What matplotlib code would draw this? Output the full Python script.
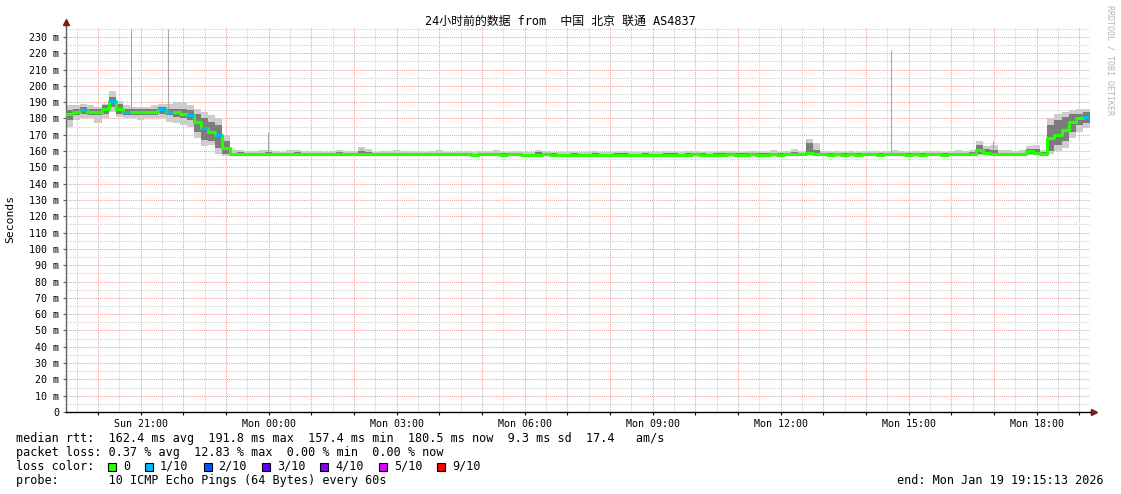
from datetime import datetime, timedelta

import numpy as np
import matplotlib
matplotlib.use('Agg')
import matplotlib.pyplot as plt
import matplotlib.dates as mdates
from matplotlib.ticker import MultipleLocator, FuncFormatter
from matplotlib.patches import Rectangle

MONO = 'DejaVu Sans Mono'
plt.rcParams['font.family'] = [MONO, 'Noto Sans CJK SC']

# 10 minute bins, Sun 19:15:13 -> Mon 19:15:13
start = datetime(2026, 1, 18, 19, 15, 13)
n_bins = 144

median = [
    183, 184, 185, 184, 184, 186, 191, 186, 184, 184, 184, 184,
    184, 186, 184, 184, 183, 182, 178, 174, 172, 170, 162,
    158.2, 158.3, 158.2, 158.2, 158.2, 158.3, 158.2, 158.2, 158.2, 158.2, 158.2, 158.1,
    158.1, 158.1, 158.1, 158.2, 158.1, 158.1, 158.2, 158.1, 158.1, 158.1, 158.1, 158.1,
    158.0, 158.1, 158.0, 158.0, 158.0, 158.1, 158.0, 158.0, 158.0, 158.0, 157.9, 158.0,
    158.0, 158.0, 157.9, 158.0, 158.0, 157.9, 157.9, 157.9, 158.0, 157.9, 157.9, 157.9,
    157.9, 157.9, 157.9, 157.9, 157.9, 157.8, 157.9, 157.9, 157.9, 157.9, 157.9, 157.9,
    157.9, 157.9, 157.9, 157.9, 157.9, 158.0, 157.9, 157.9, 157.9, 157.9, 158.0, 157.9,
    157.9, 158.0, 157.9, 157.9, 158.0, 157.9, 158.0, 158.1, 158.0, 158.6, 158.2, 158.0,
    157.9, 158.0, 157.9, 158.0, 157.9, 158.0, 158.0, 157.9, 158.0, 158.1, 158.0, 157.9,
    158.0, 157.9, 158.0, 158.0, 157.9, 158.0, 158.1, 158.0, 158.2, 160.5, 159.0, 158.2,
    158.0, 158.1, 158.0, 158.1, 160.0, 159.0, 158.5, 168, 170, 173, 178, 180, 181,
]

# lost pings out of 10 per bin
loss = [
    0, 0, 1, 0, 0, 0, 1, 0, 1, 0, 0, 0, 0, 1, 1, 0, 0, 1, 0, 1, 0, 1, 0,
] + [0] * 120 + [1]

smoke_lo = [
    175, 179, 180, 180, 177, 180, 184, 181, 180, 180, 179, 180,
    180, 180, 178, 177, 176, 175, 168, 163, 164, 158, 157,
    157.5, 157.6, 157.5, 157.5, 157.6, 157.5, 157.5, 157.6, 157.5, 157.5, 157.6, 157.4,
    157.5, 157.4, 157.5, 157.6, 157.4, 157.5, 157.6, 157.5, 157.4, 157.5, 157.4, 157.5,
    157.4, 157.5, 157.4, 157.3, 157.4, 157.5, 157.4, 157.3, 157.4, 157.4, 157.3, 157.4,
    157.5, 157.4, 157.3, 157.4, 157.4, 157.3, 157.2, 157.3, 157.4, 157.3, 157.2, 157.2,
    157.3, 157.2, 157.2, 157.3, 157.2, 157.1, 157.2, 157.3, 157.2, 157.2, 157.3, 157.2,
    157.2, 157.3, 157.2, 157.2, 157.3, 157.4, 157.3, 157.2, 157.3, 157.3, 157.4, 157.3,
    157.3, 157.4, 157.3, 157.3, 157.4, 157.3, 157.4, 157.5, 157.4, 157.6, 157.5, 157.4,
    157.3, 157.4, 157.3, 157.4, 157.3, 157.4, 157.4, 157.3, 157.4, 157.5, 157.4, 157.3,
    157.4, 157.3, 157.4, 157.4, 157.3, 157.4, 157.5, 157.4, 157.5, 157.8, 157.6, 157.5,
    157.4, 157.5, 157.4, 157.5, 157.7, 157.6, 157.5, 158, 160, 162, 168, 172, 174,
]

smoke_hi = [
    188, 188, 189, 188, 187, 189, 197, 191, 188, 187, 187, 187,
    188, 189, 189, 190, 190, 188, 186, 184, 182, 180, 170,
    160.5, 160.8, 160.2, 159.8, 160.6, 160.9, 160.1, 159.7, 160.4, 160.8, 159.9, 160.3,
    160.0, 159.6, 160.2, 160.7, 159.8, 160.1, 162.5, 161.0, 159.7, 160.2, 159.9, 160.4,
    159.8, 160.3, 159.7, 159.5, 160.1, 160.4, 159.6, 159.5, 160.0, 159.9, 159.4, 159.8,
    160.2, 160.6, 159.7, 159.5, 159.9, 159.4, 159.3, 160.8, 160.2, 159.5, 159.2, 159.4,
    159.6, 159.3, 159.5, 159.8, 159.4, 159.2, 159.6, 159.9, 159.4, 159.3, 159.7, 159.5,
    159.4, 159.8, 159.6, 159.3, 159.9, 160.2, 159.6, 159.4, 159.7, 159.8, 160.1, 159.6,
    159.7, 160.2, 159.8, 159.6, 160.5, 159.7, 160.3, 161.2, 160.0, 167.5, 165.0, 160.2,
    159.6, 160.1, 159.7, 160.0, 159.6, 160.3, 160.1, 159.7, 160.0, 160.4, 160.2, 159.6,
    159.9, 159.6, 160.0, 160.2, 159.7, 160.1, 160.4, 160.0, 160.8, 166.0, 163.0, 164.0,
    160.4, 160.8, 160.2, 160.6, 163.0, 164.0, 160.5, 180, 183, 184, 185, 186, 186,
]

core_lo = [
    179, 182, 183, 182, 182, 183, 187, 183, 182, 182, 182, 182,
    182, 183, 182, 181, 180, 179, 172, 167, 166, 162, 158,
    157.9, 158.0, 157.9, 157.8, 157.9, 158.0, 157.9, 157.8, 157.9, 157.8, 157.9, 157.7,
    157.8, 157.7, 157.8, 157.9, 157.7, 157.8, 157.9, 157.8, 157.7, 157.8, 157.7, 157.8,
    157.7, 157.8, 157.7, 157.6, 157.7, 157.8, 157.7, 157.6, 157.7, 157.7, 157.6, 157.7,
    157.8, 157.7, 157.6, 157.7, 157.7, 157.6, 157.5, 157.6, 157.7, 157.6, 157.5, 157.5,
    157.6, 157.5, 157.5, 157.6, 157.5, 157.4, 157.5, 157.6, 157.5, 157.5, 157.6, 157.5,
    157.5, 157.6, 157.5, 157.5, 157.6, 157.7, 157.6, 157.5, 157.6, 157.6, 157.7, 157.6,
    157.6, 157.7, 157.6, 157.6, 157.7, 157.6, 157.7, 157.8, 157.7, 157.9, 157.8, 157.7,
    157.6, 157.7, 157.6, 157.7, 157.6, 157.7, 157.7, 157.6, 157.7, 157.8, 157.7, 157.6,
    157.7, 157.6, 157.7, 157.7, 157.6, 157.7, 157.8, 157.7, 157.9, 158.5, 158.2, 157.9,
    157.7, 157.8, 157.7, 157.8, 158.2, 158.0, 157.8, 160, 164, 166, 172, 176, 177,
]

core_hi = [
    185, 186, 187, 186, 186, 188, 193, 189, 186, 186, 186, 186,
    186, 187, 186, 186, 186, 185, 183, 180, 178, 176, 166,
    159.0, 159.2, 158.9, 158.8, 159.1, 159.3, 158.9, 158.8, 159.0, 159.2, 158.8, 159.0,
    158.9, 158.7, 159.0, 159.2, 158.8, 158.9, 160.0, 159.3, 158.8, 158.9, 158.8, 159.0,
    158.8, 159.0, 158.7, 158.6, 158.9, 159.0, 158.7, 158.6, 158.8, 158.8, 158.5, 158.7,
    158.9, 159.1, 158.7, 158.6, 158.8, 158.5, 158.4, 159.2, 158.9, 158.6, 158.4, 158.5,
    158.6, 158.4, 158.5, 158.7, 158.5, 158.3, 158.6, 158.8, 158.5, 158.4, 158.7, 158.5,
    158.5, 158.7, 158.6, 158.4, 158.8, 158.9, 158.6, 158.5, 158.7, 158.7, 158.9, 158.6,
    158.7, 158.9, 158.7, 158.6, 159.0, 158.7, 158.9, 159.4, 158.9, 165.0, 160.5, 158.9,
    158.6, 158.8, 158.7, 158.8, 158.6, 158.9, 158.8, 158.7, 158.8, 159.0, 158.9, 158.6,
    158.8, 158.6, 158.8, 158.9, 158.7, 158.8, 159.0, 158.8, 159.2, 164.0, 161.0, 160.5,
    158.9, 159.1, 158.8, 159.0, 161.0, 161.0, 159.2, 176, 179, 181, 183, 183, 184,
]

# single-ping outliers: hours after start, rtt
spike_hours = [1.52, 2.39, 4.73, 6.91, 17.34, 17.48, 19.34, 21.73]
spike_values = [235, 235, 172, 162, 167, 165, 222, 166]

loss_labels = ['0', '1/10', '2/10', '3/10', '4/10', '5/10', '9/10']
loss_colors = ['#26ff00', '#00b8ff', '#0059ff', '#5e00ff', '#7e00ff', '#dd00ff', '#ff0000']
loss_steps = [0, 1, 2, 3, 4, 5, 9]

rtt_stats = [162.4, 191.8, 157.4, 180.5, 9.3, 17.4]
loss_stats = [0.37, 12.83, 0.00, 0.00]


def loss_color(k):
    col = loss_colors[0]
    for step, c in zip(loss_steps, loss_colors):
        if k >= step:
            col = c
    return col


W, H = 1121, 494
fig = plt.figure(figsize=(W / 100, H / 100), dpi=100)
ax = fig.add_axes([66 / W, 82 / H, 1024 / W, 385 / H])

edges = mdates.date2num([start + timedelta(minutes=10 * i) for i in range(n_bins + 1)])

# smoke
ax.fill_between(edges, smoke_lo + [smoke_lo[-1]], smoke_hi + [smoke_hi[-1]],
                step='post', color='#cdcdcd', lw=0, zorder=2)
ax.fill_between(edges, core_lo + [core_lo[-1]], core_hi + [core_hi[-1]],
                step='post', color='#7c7c7c', lw=0, zorder=3)

spike_x = mdates.date2num([start + timedelta(hours=h) for h in spike_hours])
spike_base = [median[int(h * 6)] for h in spike_hours]
ax.vlines(spike_x, spike_base, spike_values, color='#a8a8a8', lw=0.8, zorder=2)

# median rtt coloured by loss
ax.step(edges, median + [median[-1]], where='post', color=loss_colors[0], lw=2.2, zorder=4)
ax.hlines(median, edges[:-1], edges[1:], colors=[loss_color(k) for k in loss],
          lw=2.2, zorder=5)

ax.set_xlim(edges[0], edges[-1])
ax.set_ylim(0, 236.1)

ax.xaxis.set_major_locator(mdates.HourLocator())
ax.xaxis.set_minor_locator(mdates.MinuteLocator(byminute=[30]))
ax.xaxis.set_major_formatter(FuncFormatter(
    lambda v, p: mdates.num2date(v).strftime('%a %H:%M') if mdates.num2date(v).hour % 3 == 0 else ''))
ax.yaxis.set_major_locator(MultipleLocator(10))
ax.yaxis.set_minor_locator(MultipleLocator(5))
ax.yaxis.set_major_formatter(FuncFormatter(lambda v, p: '0' if v == 0 else f'{v:.0f} m'))

dots = (0, (1, 1))
ax.grid(which='major', color='#f2a0a0', lw=0.75, ls=dots)
ax.grid(which='minor', color='#d0d0d0', lw=0.75, ls=dots)
ax.set_axisbelow(True)

for s in ['top', 'right']:
    ax.spines[s].set_visible(False)
ax.spines['left'].set_color('#606060')
ax.spines['bottom'].set_color('#000000')
ax.spines['left'].set_linewidth(1.0)
ax.spines['bottom'].set_linewidth(1.0)

ax.tick_params(axis='y', which='major', length=2, color='#606060', pad=3, labelsize=7.2)
ax.tick_params(axis='x', which='major', length=2, color='#000000', pad=3, labelsize=7.2)
ax.tick_params(which='minor', length=0)
for lab in ax.get_xticklabels() + ax.get_yticklabels():
    lab.set_family(MONO)

# axis arrows
ax.plot([0, 0], [1, 1.013], transform=ax.transAxes, color='#606060', lw=1, clip_on=False)
ax.plot([0], [1.013], marker='^', ms=4, color='#7a1a1a', transform=ax.transAxes, clip_on=False)
ax.plot([1, 1.004], [0, 0], transform=ax.transAxes, color='#000000', lw=1, clip_on=False)
ax.plot([1.004], [0], marker='>', ms=4, color='#7a1a1a', transform=ax.transAxes, clip_on=False)


def px(x, y):
    return x / W, 1 - y / H


fig.text(*px(560, 21), '24小时前的数据 from  中国 北京 联通 AS4837', ha='center', va='center',
         fontsize=8.6, family=[MONO, 'Noto Sans CJK SC'])
fig.text(*px(10, 219), 'Seconds', rotation=90, ha='center', va='center', fontsize=8.2, family=MONO)
fig.text(*px(1110, 60), 'RRDTOOL / TOBI OETIKER', rotation=270, ha='center', va='center',
         fontsize=6, color='#b4b4b4', family=MONO)

fs = 8.5
line1 = ('median rtt:  {:.1f} ms avg  {:.1f} ms max  {:.1f} ms min  {:.1f} ms now  '
         '{:.1f} ms sd  {:.1f}   am/s').format(*rtt_stats)
line2 = 'packet loss: {:.2f} % avg  {:.2f} % max  {:.2f} % min  {:.2f} % now'.format(*loss_stats)
fig.text(*px(16, 438), line1, ha='left', va='center', fontsize=fs, family=MONO)
fig.text(*px(16, 452), line2, ha='left', va='center', fontsize=fs, family=MONO)
fig.text(*px(16, 466), 'loss color:', ha='left', va='center', fontsize=fs, family=MONO)
fig.text(*px(16, 480), 'probe:       10 ICMP Echo Pings (64 Bytes) every 60s',
         ha='left', va='center', fontsize=fs, family=MONO)
fig.text(*px(1104, 480), 'end: Mon Jan 19 19:15:13 2026', ha='right', va='center',
         fontsize=fs, family=MONO)

cx = 108
for lab, col in zip(loss_labels, loss_colors):
    bx, by = px(cx, 470.5)
    fig.patches.append(Rectangle((bx, by), 8 / W, 8 / H, transform=fig.transFigure,
                                 facecolor=col, edgecolor='black', lw=0.8))
    fig.text(*px(cx + 15, 466), lab, ha='left', va='center', fontsize=fs, family=MONO)
    cx = cx + 15 + 7.1 * len(lab) + 15

fig.savefig('out.png', dpi=100)
